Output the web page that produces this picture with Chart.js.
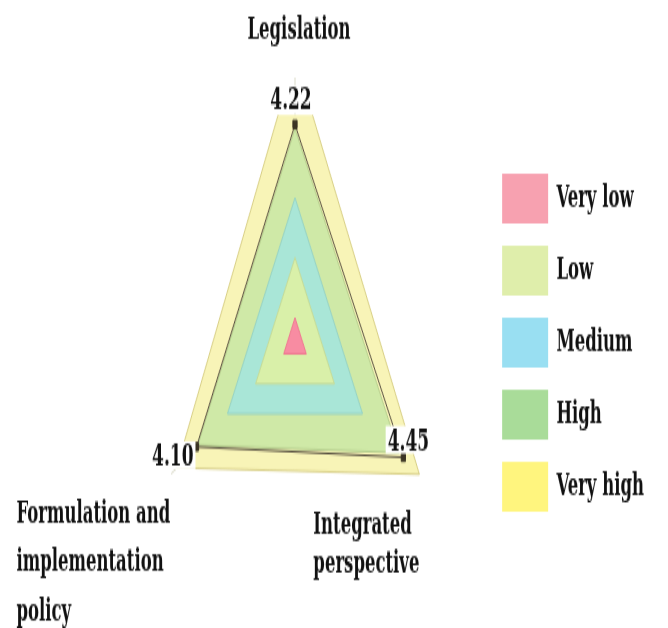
<!DOCTYPE html>
<html>
<head>
<meta charset="utf-8">
<script src="https://cdn.jsdelivr.net/npm/chart.js@4.4.0/dist/chart.umd.min.js"></script>
<style>
  html, body { margin: 0; padding: 0; background: #fff; }
  #page { width: 668px; height: 628px; position: relative; }
  /* the original picture is stretched vertically, so the whole chart is too */
  #wrap { position: absolute; left: 0; top: 0; width: 668px; height: 340px; transform: scaleY(1.847); transform-origin: 0 0; }
</style>
</head>
<body>
<div id="page"><div id="wrap"><canvas id="radarChart" width="668" height="340"></canvas></div></div>
<script>
const axes = ['Legislation', 'Integrated perspective', 'Formulation and implementation policy'];
const axisLines = [['Legislation'], ['Integrated', 'perspective'], ['Formulation and', 'implementation', 'policy']];
const scores = [4.22, 4.45, 4.10];

const bandNames = ['Very low', 'Low', 'Medium', 'High', 'Very high'];
const veryLow = [1, 1, 1];
const low = [2, 2, 2];
const medium = [3, 3, 3];
const high = [4.15, 4.3, 4.05];
const veryHigh = [5.36, 5.02, 4.8];

const fillColors = ['#f88ca2', '#d9f0a9', '#a9e6d7', '#cfe9a7', '#f8f4b7'];
const borderColors = ['#f07a92', '#c6dc98', '#98d4c4', '#b5cf8e', '#d8cf86'];
const legendColors = ['#f7a1b0', '#dfeeab', '#99dff2', '#a9dc99', '#fff57e'];

const bands = [veryLow, low, medium, high, veryHigh];
const serif = '"DejaVu Serif", "Liberation Serif", serif';

// the outer band (drawn first) is cut flat just under the top score label
const cutTop = {
  id: 'cutTop',
  beforeDatasetsDraw(chart) {
    const r = chart.scales.r;
    const y = r.getPointPositionForValue(0, scores[0]).y - 5;
    const ctx = chart.ctx;
    ctx.save();
    ctx.beginPath();
    ctx.rect(0, y, chart.width, chart.height - y);
    ctx.clip();
  },
  afterDatasetDraw(chart, args) {
    if (args.index !== 4) return;
    chart.ctx.restore();
  }
};

const labelPlugin = {
  id: 'labelPlugin',
  afterDatasetsDraw(chart) {
    const r = chart.scales.r;
    const ctx = chart.ctx;
    ctx.save();

    // value labels on white boxes
    ctx.font = 'bold 17px ' + serif;
    ctx.textBaseline = 'alphabetic';
    const valueSpots = [
      { dx: -4, dy: -8, align: 'center' },
      { dx: 5, dy: -4, align: 'center' },
      { dx: -3, dy: 10, align: 'right' }
    ];
    scores.forEach((v, i) => {
      const p = r.getPointPositionForValue(i, v);
      const s = valueSpots[i];
      const txt = v.toFixed(2);
      const w = ctx.measureText(txt).width;
      let left = p.x + s.dx;
      if (s.align === 'center') left -= w / 2;
      if (s.align === 'right') left -= w;
      ctx.fillStyle = '#fff';
      ctx.fillRect(left - 2, p.y + s.dy - 13, w + 4, 15);
      ctx.fillStyle = '#111';
      ctx.textAlign = 'left';
      ctx.fillText(txt, left, p.y + s.dy);
    });

    // axis names, placed from the score points
    ctx.font = 'bold 16.5px ' + serif;
    ctx.fillStyle = '#111';
    const nameSpots = [
      { dx: 4, dy: -46, gap: 0, align: 'center' },
      { dx: -90, dy: 41, gap: 21, align: 'left' },
      { dx: -180, dy: 41, gap: 26.5, align: 'left' }
    ];
    axisLines.forEach((lines, i) => {
      const a = r.getPointPositionForValue(i, scores[i]);
      const s = nameSpots[i];
      ctx.textAlign = s.align;
      lines.forEach((line, k) => {
        ctx.fillText(line, a.x + s.dx, a.y + s.dy + k * s.gap);
      });
    });
    ctx.restore();
  }
};

const datasets = bands.map((values, i) => ({
  label: bandNames[i],
  data: values,
  backgroundColor: fillColors[i],
  borderColor: borderColors[i],
  borderWidth: 1,
  pointRadius: 0,
  order: i + 1
}));

datasets.push({
  label: 'Score',
  data: scores,
  backgroundColor: 'rgba(0,0,0,0)',
  borderColor: '#5a5242',
  borderWidth: 1,
  pointStyle: 'rect',
  pointRadius: 3,
  pointBackgroundColor: '#3b3424',
  pointBorderColor: '#3b3424',
  order: 0
});

new Chart(document.getElementById('radarChart'), {
  type: 'radar',
  data: {
    labels: axes,
    datasets: datasets
  },
  options: {
    responsive: false,
    animation: false,
    layout: {
      padding: { left: 101, right: 14, top: 42, bottom: 11 }
    },
    scales: {
      r: {
        min: 0.6,
        max: 5,
        ticks: { display: false },
        grid: { display: false },
        angleLines: { display: true, color: 'rgba(150,150,100,0.35)' },
        pointLabels: { display: false }
      }
    },
    plugins: {
      tooltip: { enabled: false },
      legend: {
        position: 'right',
        labels: {
          boxWidth: 46,
          boxHeight: 27,
          padding: 12,
          color: '#111',
          font: { family: serif, size: 16.5, weight: 'bold' },
          generateLabels: () => bandNames.map((name, i) => ({
            text: name,
            fillStyle: legendColors[i],
            strokeStyle: legendColors[i],
            lineWidth: 0,
            hidden: false,
            datasetIndex: i,
            fontColor: '#111'
          }))
        }
      }
    }
  },
  plugins: [cutTop, labelPlugin]
});
</script>
</body>
</html>
